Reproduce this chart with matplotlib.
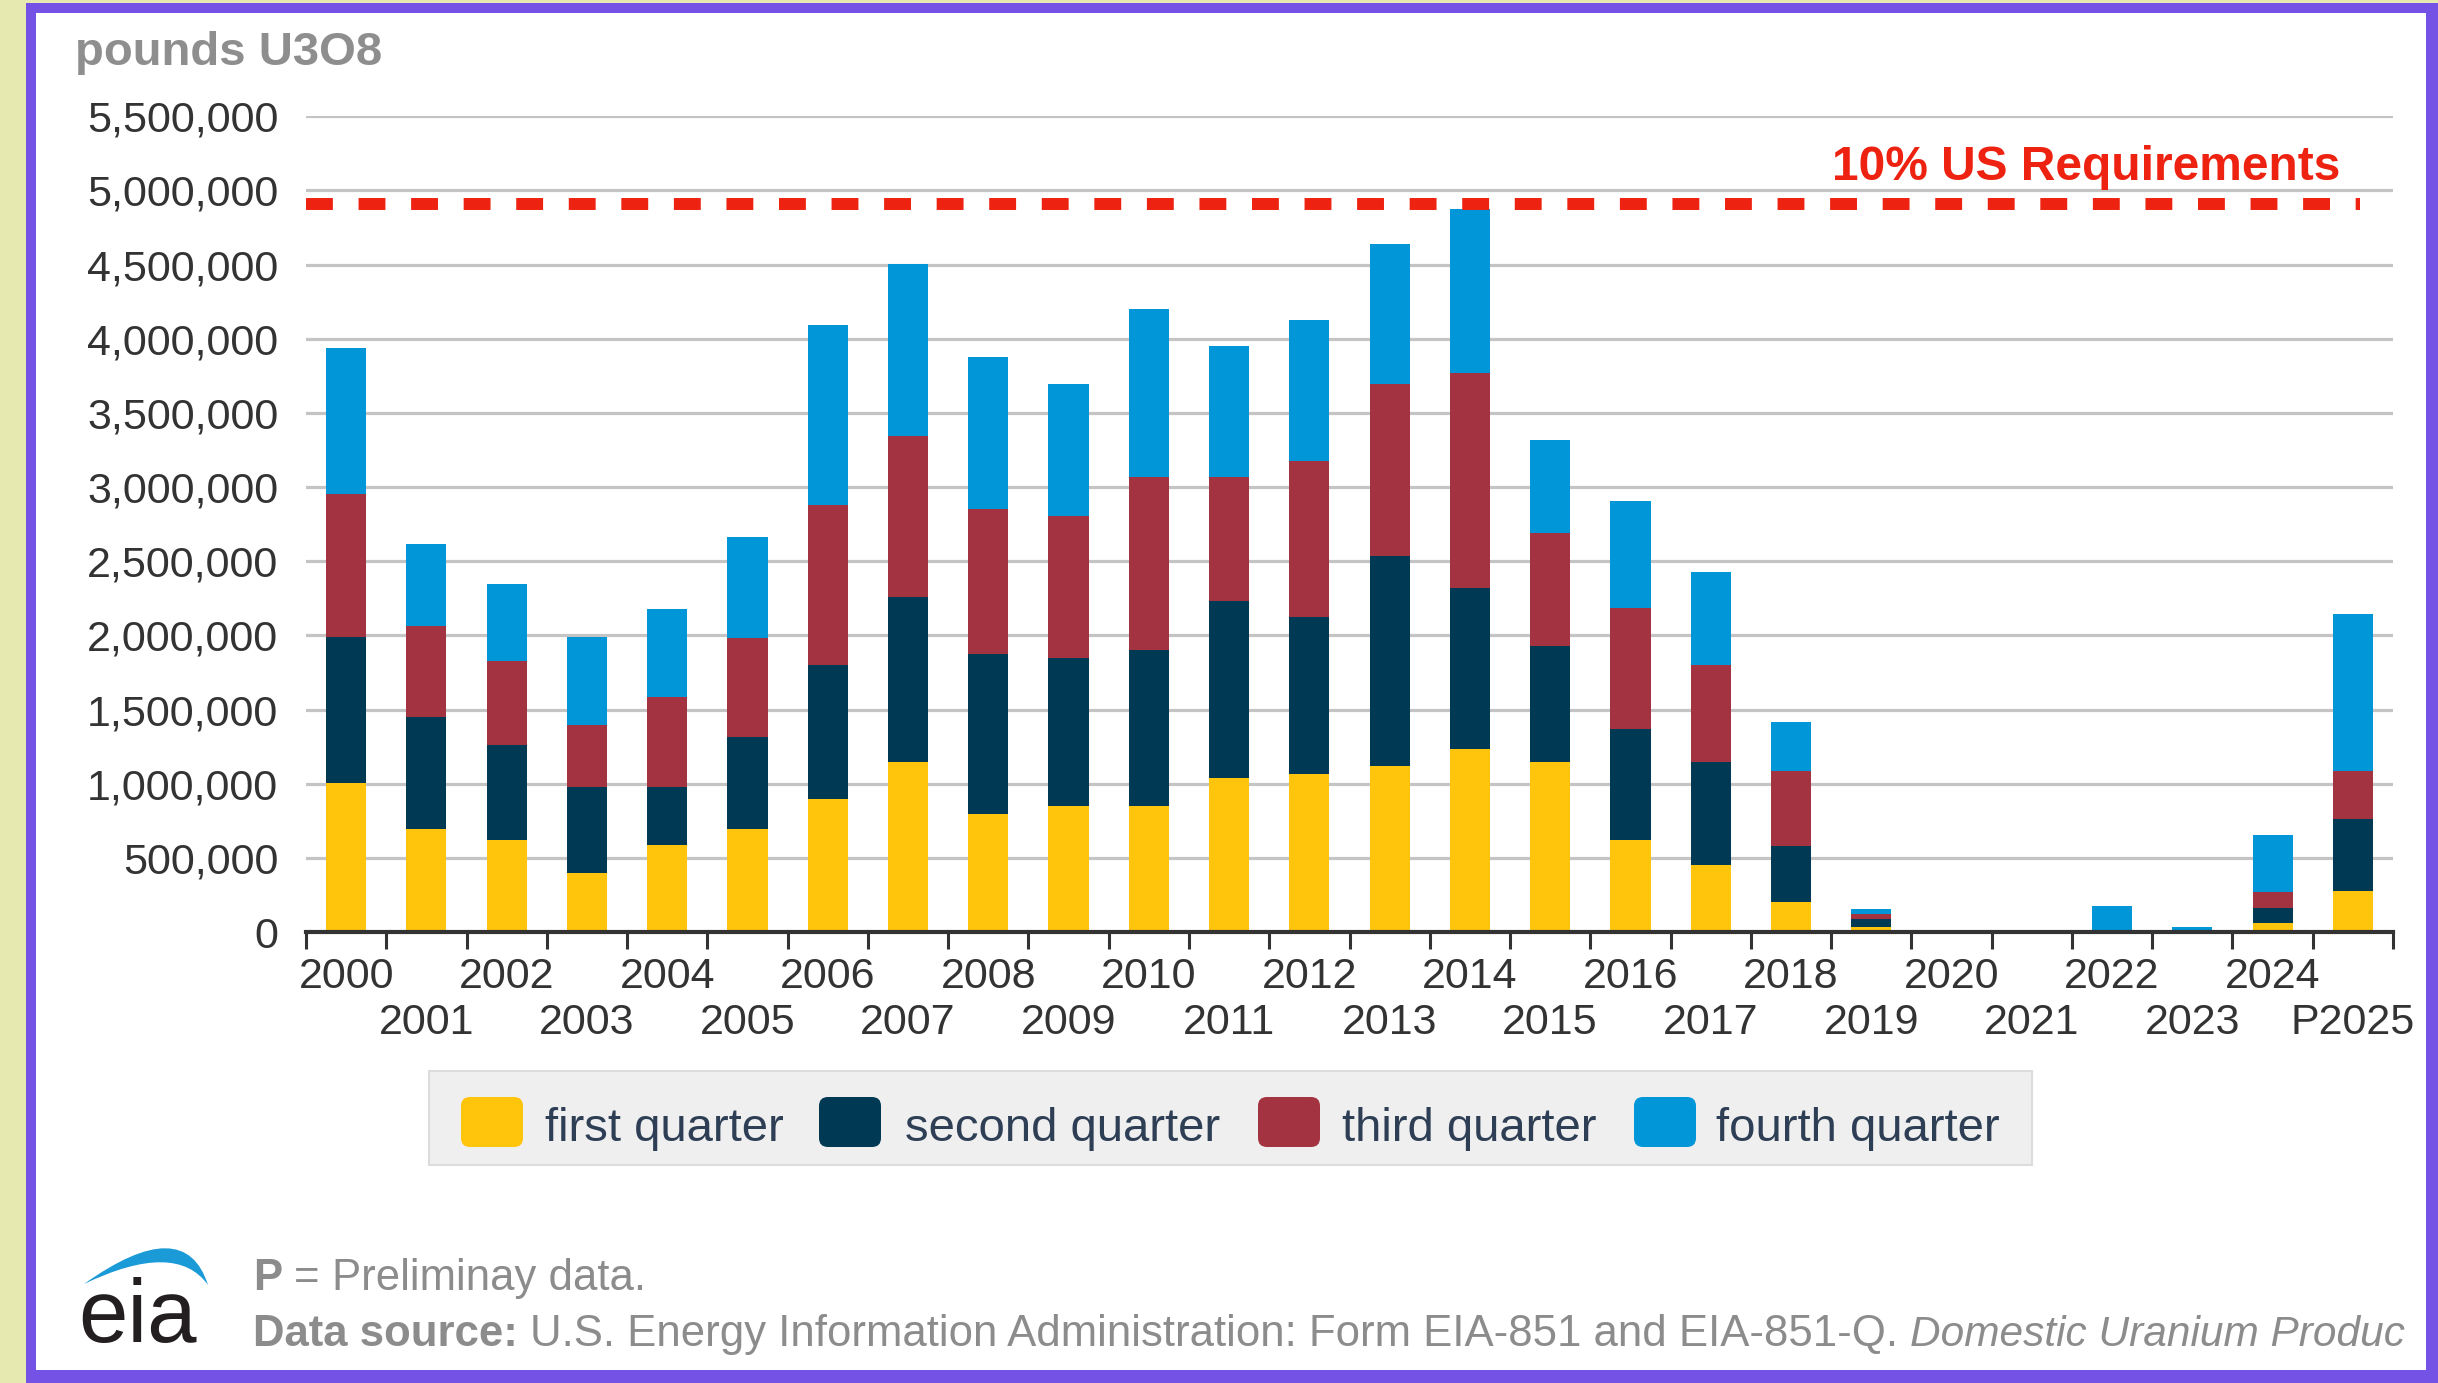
import matplotlib
matplotlib.use('Agg')
import matplotlib.pyplot as plt
import numpy as np
from matplotlib.patches import Rectangle, FancyBboxPatch, PathPatch
from matplotlib.path import Path
from matplotlib.ticker import FuncFormatter
from matplotlib.transforms import Affine2D

# ---------------- data ----------------
years = list(range(2000, 2026))
year_labels = [str(y) for y in range(2000, 2025)] + ['P2025']
series_names = ['first quarter', 'second quarter', 'third quarter', 'fourth quarter']
series_colors = ['#FFC40C', '#003953', '#A33340', '#0096D7']

q1 = [1007000, 695000, 617000, 399000, 584000, 695000, 899000, 1146000, 795000, 851000,
      851000, 1038000, 1066000, 1118000, 1233000, 1146000, 617000, 451000, 200000, 37000,
      4000, 3000, 0, 0, 59000, 277000]
q2 = [979000, 756000, 643000, 582000, 397000, 618000, 900000, 1114000, 1077000, 998000,
      1050000, 1195000, 1057000, 1415000, 1085000, 785000, 751000, 695000, 378000, 50000,
      2000, 3000, 0, 0, 106000, 484000]
q3 = [968000, 614000, 569000, 415000, 605000, 671000, 1079000, 1082000, 983000, 954000,
      1167000, 835000, 1055000, 1163000, 1450000, 760000, 814000, 653000, 505000, 33000,
      1000, 2000, 0, 0, 108000, 322000]
q4 = [985000, 550000, 517000, 591000, 592000, 680000, 1215000, 1164000, 1024000, 893000,
      1135000, 886000, 946000, 944000, 1109000, 627000, 726000, 626000, 332000, 32000,
      1000, 2000, 172000, 33000, 381000, 1058000]

requirement_level = 4910000
requirement_label = '10% US Requirements'
y_max = 5500000
y_step = 500000
unit_label = 'pounds U3O8'
note_parts = [('P', 'bold', 'normal', 31.5), ('=', 'normal', 'normal', 31.5),
              ('Preliminay data.', 'normal', 'normal', 31.5)]
source_parts = [('Data source:', 'bold', 'normal', 31.5),
                ('U.S. Energy Information Administration: Form EIA-851 and EIA-851-Q.', 'normal', 'normal', 31.5),
                ('Domestic Uranium Produc', 'normal', 'italic', 30.5)]

# ---------------- figure ----------------
W, H, DPI = 2438, 1383, 100
FONT = ['Liberation Sans', 'DejaVu Sans']
plt.rcParams['font.family'] = FONT

fig = plt.figure(figsize=(W / DPI, H / DPI), dpi=DPI, facecolor='#e6e9b0')
# pixel transform: (x from left, y from top) in pixels
PX = Affine2D().scale(1.0 / W, -1.0 / H).translate(0, 1) + fig.transFigure

# frame: purple border + white inside
fig.add_artist(Rectangle((26, 3), W - 26, H - 3, transform=PX, facecolor='#7452e6',
                         edgecolor='none', zorder=-5))
fig.add_artist(Rectangle((36, 13), 2426 - 36, 1370 - 13, transform=PX, facecolor='white',
                         edgecolor='none', zorder=-4))

# axes
ax_l, ax_r, ax_t, ax_b = 306, 2393, 116.3, 932
ax = fig.add_axes([ax_l / W, 1 - ax_b / H, (ax_r - ax_l) / W, (ax_b - ax_t) / H])
ax.set_facecolor('none')

x = np.arange(len(years))
bottom = np.zeros(len(years))
for vals, col, name in zip([q1, q2, q3, q4], series_colors, series_names):
    v = np.array(vals, dtype=float)
    ax.bar(x, v, width=0.5, bottom=bottom, color=col, linewidth=0, zorder=2, label=name)
    bottom += v

ax.set_xlim(-0.5, len(years) - 0.5)
ax.set_ylim(0, y_max)
ax.set_yticks(np.arange(0, y_max + 1, y_step))
ax.yaxis.set_major_formatter(FuncFormatter(lambda v, p: f'{v:,.0f}'))
ax.grid(axis='y', color='#c4c4c4', linewidth=2.3)
ax.set_axisbelow(True)
for s in ['left', 'right', 'top']:
    ax.spines[s].set_visible(False)
ax.spines['bottom'].set_color('#333333')
ax.spines['bottom'].set_linewidth(3)

ax.tick_params(axis='y', length=0, pad=20, labelsize=31, labelcolor='#333333')
ax.set_xticks(np.arange(-0.5, len(years)), labels=[])
ax.tick_params(axis='x', which='major', length=12, width=2.2, color='#333333', direction='out')
ax.set_xticks(x, labels=year_labels, minor=True)
ax.tick_params(axis='x', which='minor', length=0, labelsize=31, labelcolor='#333333')
for i, t in enumerate(ax.xaxis.get_minor_ticks(len(x))):
    t.set_pad(18 if i % 2 == 0 else 51)

# requirement line and label
ax.axhline(requirement_level, xmin=0, xmax=0.984, color='#EE2211', linewidth=8.6,
           linestyle=(0, (2.25, 2.15)), dash_capstyle='butt', zorder=4)
fig.text(2340, 180, requirement_label, transform=PX, ha='right', va='baseline',
         fontsize=34.5, fontweight='bold', color='#EE2211')

# unit label
fig.text(75, 65, unit_label, transform=PX, ha='left', va='baseline', fontsize=34,
         fontweight='bold', color='#8e8e8e')

# legend (manual, from series names/colors)
fig.add_artist(Rectangle((429, 1071), 2032 - 429, 1165 - 1071, transform=PX,
                         facecolor='#efefef', edgecolor='#dcdcdc', linewidth=1.5, zorder=1))
sw_x = [461, 819, 1258, 1634]
tx_x = [545, 905, 1342, 1716]
for name, col, sx, tx in zip(series_names, series_colors, sw_x, tx_x):
    fig.add_artist(FancyBboxPatch((sx, 1097), 62, 50, boxstyle='round,pad=0,rounding_size=9',
                                  transform=PX, facecolor=col, edgecolor='none', zorder=2))
    fig.text(tx, 1141, name, transform=PX, ha='left', va='baseline', fontsize=34,
             color='#2d3e55', zorder=3)

# footer
renderer = fig.canvas.get_renderer()


def rich_line(parts, x0, yb):
    cx = x0
    for s, weight, style, size in parts:
        t = fig.text(cx, yb, s, transform=PX, ha='left', va='baseline', fontsize=size,
                     fontweight=weight, fontstyle=style, color='#8c8c8c')
        bb = t.get_window_extent(renderer)
        cx += bb.width + 0.278 * size * DPI / 72.0


rich_line(note_parts, 253, 1290)
rich_line(source_parts, 253, 1346)

# eia logo
verts = [(84, 1284), (185, 1212), (208, 1285), (176, 1240), (84, 1284), (84, 1284)]
codes = [Path.MOVETO, Path.CURVE3, Path.CURVE3, Path.CURVE3, Path.CURVE3, Path.CLOSEPOLY]
fig.add_artist(PathPatch(Path(verts, codes), transform=PX, facecolor='#1a9ad6',
                         edgecolor='none', zorder=2))
fig.text(78, 1342, 'eia', transform=PX, ha='left', va='baseline', fontsize=64,
         color='#231f20')

fig.savefig('out.png', dpi=DPI, facecolor=fig.get_facecolor())
